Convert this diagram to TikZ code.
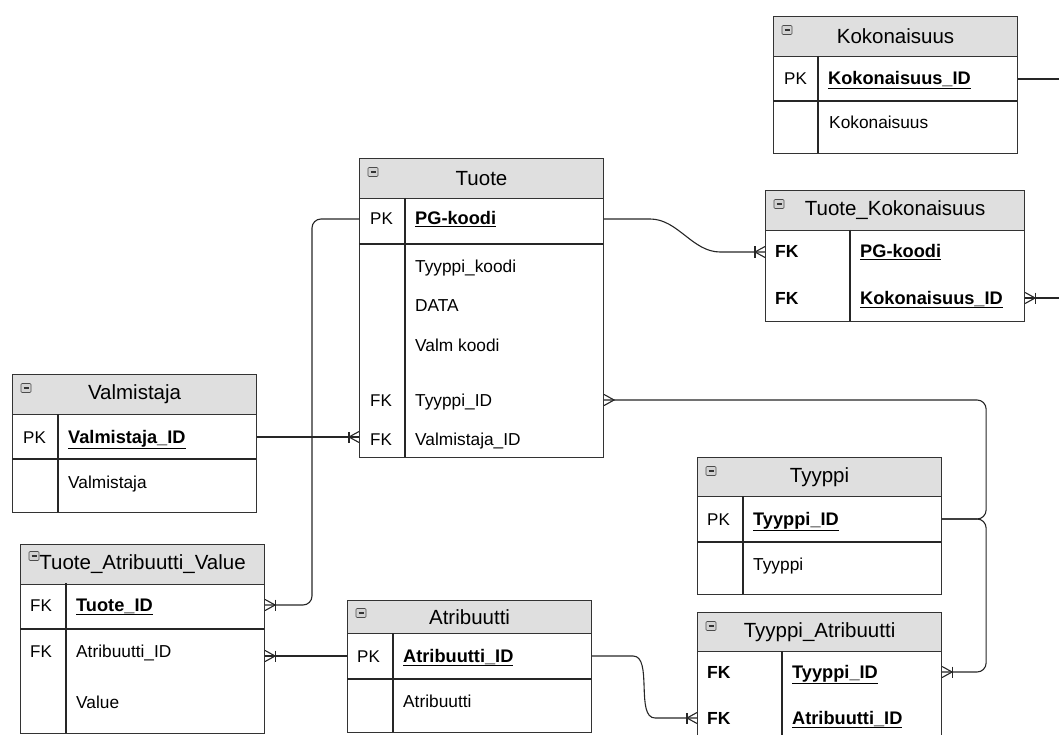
\documentclass[tikz,border=0pt]{standalone}
\usepackage{fontspec}
\setmainfont{Liberation Sans}
\usepackage{tikz}
\usetikzlibrary{positioning}
\usetikzlibrary{decorations.markings}
\tikzset{
  % table parts
  tbl/.style={draw=black!80,line width=1.1pt,fill=white,inner sep=0pt,anchor=north west},
  hdr/.style={draw=black!80,line width=1.1pt,fill=gray!25,inner sep=0pt,anchor=north west,
    minimum height=40pt,font=\fontsize{20.5}{24}\selectfont},
  tline/.style={draw=black!85,line width=1.1pt},
  icon/.style={draw=gray!60!black,fill=gray!35,rounded corners=1pt,inner sep=0pt,
    minimum width=10pt,minimum height=9pt,line width=.6pt,
    path picture={\draw[black!80,line width=1.2pt] ([xshift=-2.5pt]path picture bounding box.center)
      -- ([xshift=2.5pt]path picture bounding box.center);}},
  % text rows: the west anchor sits at the middle of the capitals
  key/.style={anchor=west,inner sep=0pt,text height=15pt,text depth=3pt,font=\fontsize{17}{20}\selectfont},
  bkey/.style={key,font=\fontsize{17.5}{20}\selectfont\bfseries},
  fld/.style={anchor=west,inner sep=0pt,text height=15pt,text depth=3pt,font=\fontsize{17.3}{20}\selectfont},
  pkfld/.style={fld,font=\fontsize{18.2}{20}\selectfont\bfseries},
  % connectors, the mark sits at the end of the path
  conn/.style={draw=black!85,line width=1.1pt,rounded corners=9pt},
  many/.style={postaction={decorate,decoration={markings,mark=at position 1 with {\draw[sharp corners,line width=1.1pt]
(0pt,5.5pt) -- (-10pt,0pt) -- (0pt,-5.5pt);}}}},
  onemany/.style={postaction={decorate,decoration={markings,mark=at position 1 with {\draw[sharp corners,line width=1.1pt]
(0pt,5.5pt) -- (-10pt,0pt) -- (0pt,-5.5pt); \draw[sharp corners,line width=1.1pt] (-10pt,-5.5pt) -- (-10pt,5.5pt);}}}},
}
\newcommand{\ul}[1]{\underline{#1}}

\begin{document}
\begin{tikzpicture}[x=1pt,y=-1pt]
  \useasboundingbox (0,0) rectangle (1059,735);
  \clip (0,0) rectangle (1059,735);

  % Kokonaisuus
  \node[tbl,minimum width=244pt,minimum height=137pt] (koko) at (773,16) {};
  \node[hdr,minimum width=244pt] (koko-h) at (773,16) {Kokonaisuus};
  \node[icon] (koko-i) at (787,30) {};
  \draw[tline] (773,101) -- (1017,101);
  \draw[tline] (818,56) -- (818,153);
  \node[key] (koko-pk) at (784,79) {PK};
  \node[pkfld] (koko-id) at (828,79) {\ul{Kokonaisuus\_ID}};
  \node[fld] (koko-n) at (829,123) {Kokonaisuus};

  % Tuote
  \node[tbl,minimum width=244pt,minimum height=299pt] (tuote) at (359,158) {};
  \node[hdr,minimum width=244pt] (tuote-h) at (359,158) {Tuote};
  \node[icon] (tuote-i) at (373,172) {};
  \draw[tline] (359,244) -- (603,244);
  \draw[tline] (405,198) -- (405,457);
  \node[key] (tuote-pk) at (370,219) {PK};
  \node[pkfld] (tuote-pg) at (415,219) {\ul{PG-koodi}};
  \node[fld] (tuote-tk) at (415,266) {Tyyppi\_koodi};
  \node[fld] (tuote-data) at (415,305) {DATA};
  \node[fld] (tuote-vk) at (415,345) {Valm koodi};
  \node[key] (tuote-fk1) at (370,400) {FK};
  \node[fld] (tuote-tid) at (415,400) {Tyyppi\_ID};
  \node[key] (tuote-fk2) at (370,439) {FK};
  \node[fld] (tuote-vid) at (415,439) {Valmistaja\_ID};

  % Tuote_Kokonaisuus
  \node[tbl,minimum width=259pt,minimum height=131pt] (tk) at (765,190) {};
  \node[hdr,minimum width=259pt] (tk-h) at (765,190) {Tuote\_Kokonaisuus};
  \node[icon] (tk-i) at (779,204) {};
  \draw[tline] (850,230) -- (850,321);
  \node[bkey] (tk-fk1) at (775,252) {FK};
  \node[pkfld] (tk-pg) at (860,252) {\ul{PG-koodi}};
  \node[bkey] (tk-fk2) at (775,298) {FK};
  \node[pkfld] (tk-kid) at (860,298) {\ul{Kokonaisuus\_ID}};

  % Valmistaja
  \node[tbl,minimum width=244pt,minimum height=138pt] (valm) at (12,374) {};
  \node[hdr,minimum width=244pt] (valm-h) at (12,374) {Valmistaja};
  \node[icon] (valm-i) at (26,388) {};
  \draw[tline] (12,459) -- (256,459);
  \draw[tline] (58,414) -- (58,512);
  \node[key] (valm-pk) at (23,437) {PK};
  \node[pkfld] (valm-id) at (68,437) {\ul{Valmistaja\_ID}};
  \node[fld] (valm-n) at (68,482) {Valmistaja};

  % Tuote_Atribuutti_Value
  \node[tbl,minimum width=244pt,minimum height=189pt] (tav) at (20,544) {};
  \node[hdr,minimum width=244pt] (tav-h) at (20,544) {Tuote\_Atribuutti\_Value};
  \node[icon] (tav-i) at (34,556) {};
  \draw[tline] (20,629) -- (264,629);
  \draw[tline] (66,583) -- (66,733);
  \node[key] (tav-fk1) at (30,605) {FK};
  \node[pkfld] (tav-tid) at (76,605) {\ul{Tuote\_ID}};
  \node[key] (tav-fk2) at (30,651) {FK};
  \node[fld] (tav-aid) at (76,651) {Atribuutti\_ID};
  \node[fld] (tav-val) at (76,702) {Value};

  % Atribuutti
  \node[tbl,minimum width=244pt,minimum height=132pt] (atr) at (347,600) {};
  \node[hdr,minimum width=244pt,minimum height=33pt] (atr-h) at (347,600) {Atribuutti};
  \node[icon] (atr-i) at (361,613) {};
  \draw[tline] (347,679) -- (591,679);
  \draw[tline] (393,633) -- (393,732);
  \node[key] (atr-pk) at (357,656) {PK};
  \node[pkfld] (atr-id) at (403,656) {\ul{Atribuutti\_ID}};
  \node[fld] (atr-n) at (403,701) {Atribuutti};

  % Tyyppi
  \node[tbl,minimum width=244pt,minimum height=137pt] (tyyppi) at (697,457) {};
  \node[hdr,minimum width=244pt,minimum height=39pt] (tyyppi-h) at (697,457) {Tyyppi};
  \node[icon] (tyyppi-i) at (711,471) {};
  \draw[tline] (697,542) -- (941,542);
  \draw[tline] (743,496) -- (743,594);
  \node[key] (tyyppi-pk) at (707,519) {PK};
  \node[pkfld] (tyyppi-id) at (753,519) {\ul{Tyyppi\_ID}};
  \node[fld] (tyyppi-n) at (753,564) {Tyyppi};

  % Tyyppi_Atribuutti
  \node[tbl,minimum width=244pt,minimum height=160pt] (ta) at (697,612) {};
  \node[hdr,minimum width=244pt,minimum height=39pt] (ta-h) at (697,612) {Tyyppi\_Atribuutti};
  \node[icon] (ta-i) at (711,626) {};
  \draw[tline] (782,651) -- (782,772);
  \node[bkey] (ta-fk1) at (707,672) {FK};
  \node[pkfld] (ta-tid) at (792,672) {\ul{Tyyppi\_ID}};
  \node[bkey] (ta-fk2) at (707,718) {FK};
  \node[pkfld] (ta-aid) at (792,718) {\ul{Atribuutti\_ID}};

  % relations
  \coordinate (koko-out) at (1059,79);
  \coordinate (tk-out) at (1059,298);
  \draw[conn] (koko.east |- koko-id.west) -- (koko-out);
  \draw[conn,onemany] (tk-out) -- (tk.east |- tk-kid.west);
  \draw[conn,onemany] (tuote.east |- tuote-pg.west) -- ++(37,0) to[out=0,in=180] ++(88,33)
    -- (tk.west |- tk-pg.west);
  \draw[conn,many] (tyyppi.east |- tyyppi-id.west) -- ++(44,0) |- (tuote.east |- tuote-tid.west);
  \draw[conn,onemany] (tyyppi.east |- tyyppi-id.west) -- ++(44,0) |- (ta.east |- ta-tid.west);
  \draw[conn,onemany] (valm.east |- valm-id.west) -- (tuote.west |- valm-id.west);
  \draw[conn,onemany] (tuote.west |- tuote-pg.west) -- ++(-47,0) |- (tav.east |- tav-tid.west);
  \draw[conn,onemany] (atr.west |- atr-id.west) -- (tav.east |- atr-id.west);
  \draw[conn,onemany] (atr.east |- atr-id.west) -- ++(32,0) to[out=0,in=180] ++(40,62)
    -- (ta.west |- ta-aid.west);
\end{tikzpicture}
\end{document}
